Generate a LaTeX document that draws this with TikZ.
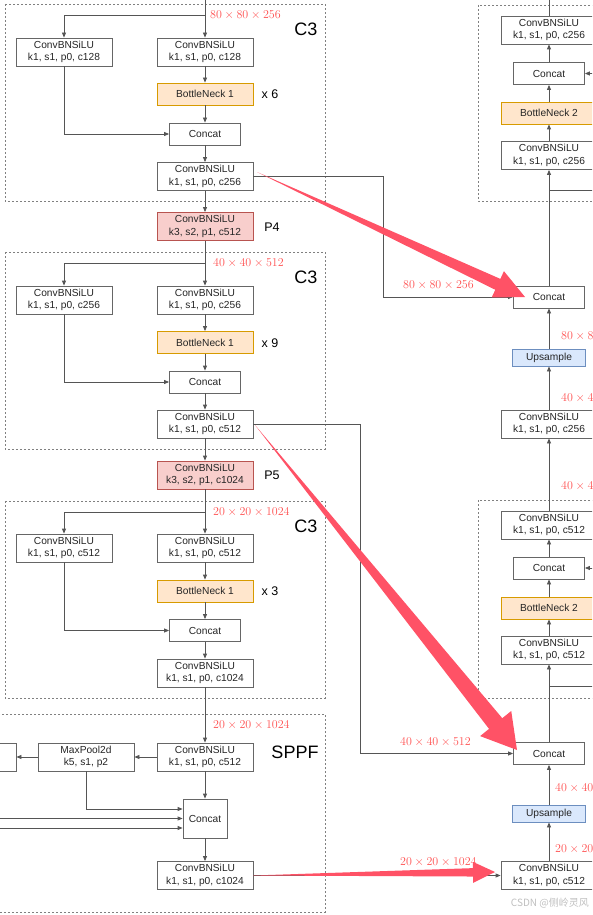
\documentclass[tikz,border=0pt]{standalone}
\usepackage{fontspec}
\setsansfont{Liberation Sans}
\newfontfamily\cjkfont{Noto Sans CJK SC}
\usetikzlibrary{arrows.meta,calc}
\definecolor{lbl}{RGB}{255,80,80}
\definecolor{bigred}{RGB}{255,82,102}
\definecolor{edgec}{RGB}{102,102,102}
\definecolor{wirec}{RGB}{85,85,85}
\definecolor{redfill}{RGB}{248,206,204}
\definecolor{redline}{RGB}{184,84,80}
\definecolor{orgfill}{RGB}{255,230,204}
\definecolor{orgline}{RGB}{215,155,0}
\definecolor{bluefill}{RGB}{218,232,252}
\definecolor{blueline}{RGB}{108,142,191}
\newcommand\bigarrow[5]{%
  \coordinate (hb) at ($(#2)!#3!(#1)$);
  \fill[bigred] (#1) -- ($(hb)!#4!90:(#2)$) -- ($(hb)!#5!90:(#2)$) -- (#2)
    -- ($(hb)!#5!-90:(#2)$) -- ($(hb)!#4!-90:(#2)$) -- cycle;}
\begin{document}
\begin{tikzpicture}[x=1pt,y=-1pt,
  box/.style={draw=edgec,line width=0.8pt,fill=white,inner sep=0pt,minimum width=96pt,minimum height=28pt,align=center,font=\sffamily\fontsize{10.2}{12.4}\selectfont,text=black!85},
  cat/.style={box,minimum width=71pt,minimum height=22pt},
  bn/.style={box,minimum height=22pt,fill=orgfill,draw=orgline},
  pbox/.style={box,fill=redfill,draw=redline},
  upbox/.style={box,minimum width=73pt,minimum height=17pt,fill=bluefill,draw=blueline},
  wire/.style={draw=wirec,line width=0.8pt},
  arr/.style={wire,-{Triangle[length=5pt,width=4pt]}},
  grp/.style={draw=gray,line width=0.6pt,dash pattern=on 2pt off 2pt},
  dimlab/.style={text=lbl,font=\fontsize{12}{14}\selectfont,inner sep=0pt},
  biglab/.style={font=\sffamily\fontsize{18}{20}\selectfont,inner sep=0pt},
  midlab/.style={font=\sffamily\fontsize{12.5}{14}\selectfont,inner sep=0pt},
]
\useasboundingbox (0,0) rectangle (592,915);
\clip (0,0) rectangle (592,915);

% group frames
\draw[grp] (5,4) rectangle (325,201);
\draw[grp] (5,252) rectangle (325,449);
\draw[grp] (5,501) rectangle (325,698);
\draw[grp] (-10,714) rectangle (325,912);
\draw[grp] (478,5) rectangle (610,201);
\draw[grp] (478,500) rectangle (610,698);

% ---------- left column: C3 (80x80) ----------
\node[box] (a1) at (64,52) {ConvBNSiLU\\k1, s1, p0, c128};
\node[box] (a2) at (205,52) {ConvBNSiLU\\k1, s1, p0, c128};
\node[bn]  (abn) at (205,94) {BottleNeck 1};
\node[cat] (acat) at (205,134) {Concat};
\node[box] (aout) at (205,176.5) {ConvBNSiLU\\k1, s1, p0, c256};
\node[pbox] (p4) at (205,226.5) {ConvBNSiLU\\k3, s2, p1, c512};

% ---------- C3 (40x40) ----------
\node[box] (b1) at (64,300) {ConvBNSiLU\\k1, s1, p0, c256};
\node[box] (b2) at (205,300) {ConvBNSiLU\\k1, s1, p0, c256};
\node[bn]  (bbn) at (205,342.5) {BottleNeck 1};
\node[cat] (bcat) at (205,382) {Concat};
\node[box] (bout) at (205,424) {ConvBNSiLU\\k1, s1, p0, c512};
\node[pbox] (p5) at (205,475) {ConvBNSiLU\\k3, s2, p1, c1024};

% ---------- C3 (20x20) ----------
\node[box] (c1) at (64,548) {ConvBNSiLU\\k1, s1, p0, c512};
\node[box] (c2) at (205,548) {ConvBNSiLU\\k1, s1, p0, c512};
\node[bn]  (cbn) at (205,591) {BottleNeck 1};
\node[cat] (ccat) at (205,630.5) {Concat};
\node[box] (cout) at (205,673) {ConvBNSiLU\\k1, s1, p0, c1024};

% ---------- SPPF ----------
\node[box] (s1) at (205,757) {ConvBNSiLU\\k1, s1, p0, c512};
\node[box] (mp) at (86,757) {MaxPool2d\\k5, s1, p2};
\node[box] (mp2) at (-32,757) {};
\node[cat,minimum width=44pt,minimum height=39pt] (scat) at (205,818.5) {Concat};
\node[box] (s2) at (205,875.5) {ConvBNSiLU\\k1, s1, p0, c1024};

% ---------- right column ----------
\node[box] (t1) at (549,30) {ConvBNSiLU\\k1, s1, p0, c256};
\node[cat] (tcat) at (549,73.5) {Concat};
\node[bn]  (tbn) at (549,113) {BottleNeck 2};
\node[box] (t2) at (549,155.5) {ConvBNSiLU\\k1, s1, p0, c256};
\node[cat] (c80) at (549,297) {Concat};
\node[upbox] (up1) at (549,357.5) {Upsample};
\node[box] (r256) at (549,424) {ConvBNSiLU\\k1, s1, p0, c256};
\node[box] (m1) at (549,525) {ConvBNSiLU\\k1, s1, p0, c512};
\node[cat] (mcat) at (549,568) {Concat};
\node[bn]  (mbn) at (549,608) {BottleNeck 2};
\node[box] (m2) at (549,650) {ConvBNSiLU\\k1, s1, p0, c512};
\node[cat] (c40) at (549,753.5) {Concat};
\node[upbox] (up2) at (549,813.5) {Upsample};
\node[box] (rF) at (549,875.5) {ConvBNSiLU\\k1, s1, p0, c512};

% ---------- side labels ----------
\node[biglab] (lc3a) at (306,29.5) {C3};
\node[biglab] (lc3b) at (306,277.5) {C3};
\node[biglab] (lc3c) at (306,526) {C3};
\node[biglab] (lsppf) at (295,752) {SPPF};
\node[midlab] (x6) at (270,94) {x 6};
\node[midlab] (x9) at (270,343) {x 9};
\node[midlab] (x3) at (270,591) {x 3};
\node[midlab] (lp4) at (272,227) {P4};
\node[midlab] (lp5) at (272,475) {P5};

% ---------- connectors: left column ----------
\coordinate (inA) at (205,-5);
\coordinate (brA) at (205,15);
\draw[wire] (inA) -- (brA);
\draw[arr] (brA) -- (a2);
\draw[arr] (brA) -| (a1);
\draw[arr] (a2) -- (abn);
\draw[arr] (abn) -- (acat);
\draw[arr] (a1) |- (acat);
\draw[arr] (acat) -- (aout);
\draw[arr] (aout) -- (p4);

\coordinate (brB) at (205,263);
\draw[wire] (p4) -- (brB);
\draw[arr] (brB) -- (b2);
\draw[arr] (brB) -| (b1);
\draw[arr] (b2) -- (bbn);
\draw[arr] (bbn) -- (bcat);
\draw[arr] (b1) |- (bcat);
\draw[arr] (bcat) -- (bout);
\draw[arr] (bout) -- (p5);

\coordinate (brC) at (205,512);
\draw[wire] (p5) -- (brC);
\draw[arr] (brC) -- (c2);
\draw[arr] (brC) -| (c1);
\draw[arr] (c2) -- (cbn);
\draw[arr] (cbn) -- (ccat);
\draw[arr] (c1) |- (ccat);
\draw[arr] (ccat) -- (cout);
\draw[arr] (cout) -- (s1);

\draw[arr] (s1) -- (mp);
\draw[arr] (mp) -- (mp2);
\draw[arr] (s1) -- (scat);
\coordinate (sin1) at ($(scat.west)+(0,-9.5)$);
\draw[arr] (mp.south) |- (sin1);
\coordinate (l2) at (-5,818.5);
\coordinate (l3) at (-5,828);
\draw[arr] (l2) -- (l2 -| scat.west);
\draw[arr] (l3) -- (l3 -| scat.west);
\draw[arr] (scat) -- (s2);

% ---------- cross connections ----------
\coordinate (aturn) at (383,297);
\draw[arr] (aout.east) -| (aturn) -- (c80.west);
\coordinate (bturn) at (360,753.5);
\draw[arr] (bout.east) -| (bturn) -- (c40.west);
\draw[arr] (s2.east) -- (rF.west);

% ---------- connectors: right column ----------
\draw[arr] (rF) -- (up2);
\draw[arr] (up2) -- (c40);
\draw[arr] (c40) -- (m2);
\coordinate (brM) at (549,686);
\coordinate (brMr) at (610,686);
\draw[wire] (brM) -- (brMr);
\draw[arr] (m2) -- (mbn);
\draw[arr] (mbn) -- (mcat);
\draw[arr] (mcat) -- (m1);
\coordinate (mcin) at (610,568);
\draw[arr] (mcin) -- (mcat.east);
\draw[arr] (m1) -- (r256);
\draw[arr] (r256) -- (up1);
\draw[arr] (up1) -- (c80);
\draw[arr] (c80) -- (t2);
\coordinate (brT) at (549,190);
\coordinate (brTr) at (610,190);
\draw[wire] (brT) -- (brTr);
\draw[arr] (t2) -- (tbn);
\draw[arr] (tbn) -- (tcat);
\draw[arr] (tcat) -- (t1);
\coordinate (tcin) at (610,73.5);
\draw[arr] (tcin) -- (tcat.east);
\coordinate (tout) at (549,-5);
\draw[wire] (t1) -- (tout);

% ---------- dimension labels ----------
\node[dimlab,anchor=west] (d1) at (210,15) {$80\times80\times256$};
\node[dimlab,anchor=west] (d2) at (213,263) {$40\times40\times512$};
\node[dimlab,anchor=west] (d3) at (213,512) {$20\times20\times1024$};
\node[dimlab,anchor=west] (d4) at (213,725) {$20\times20\times1024$};
\node[dimlab,anchor=west] (d5) at (403,285) {$80\times80\times256$};
\node[dimlab,anchor=west] (d6) at (400,742) {$40\times40\times512$};
\node[dimlab,anchor=west] (d7) at (400,862) {$20\times20\times1024$};
\node[dimlab,anchor=west] (d8) at (561,336) {$80\times80\times256$};
\node[dimlab,anchor=west] (d9) at (561,398) {$40\times40\times256$};
\node[dimlab,anchor=west] (d10) at (561,486) {$40\times40\times512$};
\node[dimlab,anchor=west] (d11) at (555,788) {$40\times40\times512$};
\node[dimlab,anchor=west] (d12) at (555,849) {$20\times20\times512$};

% ---------- big red annotation arrows ----------
\coordinate (r1t) at (257,172);
\coordinate (r1h) at (525,297);
\bigarrow{r1t}{r1h}{30pt}{6pt}{14.5pt}
\coordinate (r2t) at (255,425);
\coordinate (r2h) at (517,750);
\bigarrow{r2t}{r2h}{34pt}{8.5pt}{20pt}
\coordinate (r3t) at (253,875.5);
\coordinate (r3h) at (495,872);
\bigarrow{r3t}{r3h}{22pt}{4.2pt}{10.5pt}

% watermark
\node[text=black!25,font=\cjkfont\fontsize{10}{12}\selectfont,anchor=east,inner sep=0pt] (wm) at (589,903) {CSDN @侧岭灵风};
\end{tikzpicture}
\end{document}
